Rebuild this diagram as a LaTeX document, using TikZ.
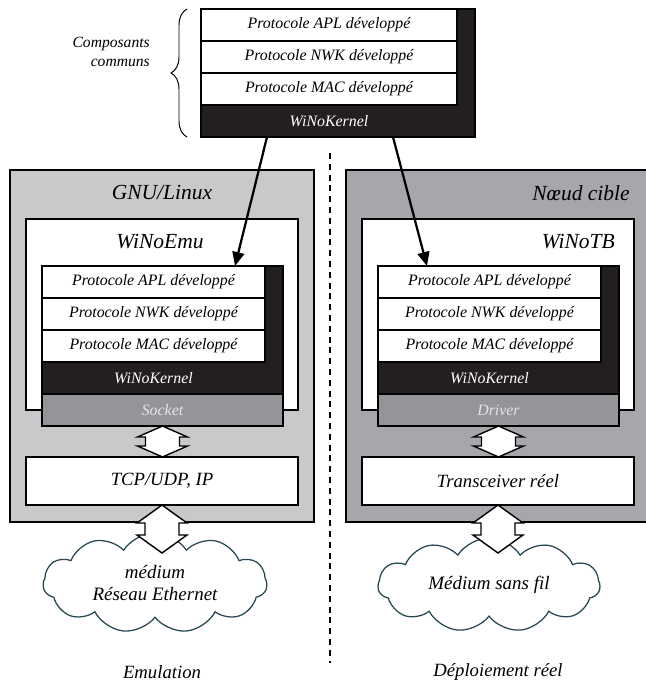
\documentclass[tikz,border=0pt]{standalone}
\usepackage{fontspec}
\setmainfont{Liberation Serif}
\usetikzlibrary{positioning,shapes.symbols,decorations.pathreplacing,arrows.meta}

\definecolor{noir}{RGB}{35,31,32}
\definecolor{grisclair}{RGB}{200,201,203}
\definecolor{grisfonce}{RGB}{166,167,171}
\definecolor{grispilote}{RGB}{147,149,152}
\definecolor{bordnuage}{RGB}{40,72,84}

\tikzset{couche/.style = {draw, fill=white, line width=1pt, minimum width=#1,
                          minimum height=0.8cm, inner sep=0pt, outer sep=0pt,
                          font=\fontsize{11.3}{13}\selectfont\itshape},
         couche/.default=5.575cm,
         noyau/.style = {couche=#1, draw=none, fill=none, text=white},
         noyau/.default=5.575cm,
         fond/.style = {draw, fill=noir, line width=1pt, minimum width=#1,
                        minimum height=3.2cm, inner sep=0pt, outer sep=0pt},
         fond/.default=6.025cm,
         pilote/.style = {couche=6.025cm, fill=grispilote, text=white!90!black},
         hote/.style = {draw, line width=1.2pt, minimum width=7.6cm, minimum height=8.8cm,
                        inner sep=0pt, outer sep=0pt},
         cadre/.style = {draw, fill=white, line width=1.2pt, minimum width=6.8cm,
                         minimum height=4.775cm, inner sep=0pt, outer sep=0pt},
         boite/.style = {cadre, minimum height=1.2cm, font=\fontsize{13.3}{15}\selectfont\itshape},
         titre/.style = {inner sep=0pt, font=\fontsize{15.3}{17}\selectfont\itshape},
         legende/.style = {inner sep=0pt, font=\fontsize{13.3}{15}\selectfont\itshape},
         nuage/.style = {cloud, cloud puffs=11, cloud puff arc=115, cloud ignores aspect,
                         draw=bordnuage, fill=white, line width=0.9pt, inner sep=0pt,
                         minimum width=5.6cm, minimum height=2.5cm, align=center,
                         font=\fontsize{13.5}{15.5}\selectfont\itshape},
         bidirec/.style = {draw, fill=white, line width=1pt, line join=miter},
         lien/.style = {line width=1.6pt, -{Triangle[length=0.35cm,width=0.3cm]}},
         accolade/.style = {decorate, decoration={brace, amplitude=0.4cm}, line width=0.7pt},
         separation/.style = {line width=1pt, dash pattern=on 0.15cm off 0.12cm}
        }

% fleche double entre deux points : tete, puis longueur du fut
\newcommand{\bidir}[4]{%
  \draw[bidirec] (#1) -- ++(-0.625,-#3) -- ++(0.2,0) -- ++(0,-#4) -- ++(-0.2,0) -- (#2)
    -- ++(0.625,#3) -- ++(-0.2,0) -- ++(0,#4) -- ++(0.2,0) -- cycle;}

\begin{document}
\begin{tikzpicture}
\useasboundingbox (0,0) rectangle (16.125,-17.05);
% composants communs
\node[fond=6.85cm, anchor=north west] (fondH) at (5.025,-0.225) {};
\node[couche=6.4cm, anchor=north west] (aplH) at (5.025,-0.225) {Protocole APL développé};
\node[couche=6.4cm, below=0pt of aplH] (nwkH) {Protocole NWK développé};
\node[couche=6.4cm, below=0pt of nwkH] (macH) {Protocole MAC développé};
\node[noyau=6.4cm, below=0pt of macH] (kerH) {WiNoKernel};
\draw[accolade] ([xshift=-0.35cm]kerH.south west) -- ([xshift=-0.35cm]aplH.north west);
\node[legende, font=\fontsize{11.1}{13.5}\selectfont\itshape, anchor=east, align=right] (communs) at (3.75,-1.3) {Composants\\communs};

% emulation
\node[hote, fill=grisclair, anchor=north west] (linux) at (0.25,-4.25) {};
\node[titre] (tlinux) at (4.05,-4.825) {GNU/Linux};
\node[cadre, anchor=north west] (emu) at (0.65,-5.475) {};
\node[titre] (temu) at (4.0,-6.05) {WiNoEmu};
\node[fond, anchor=north west] (fondE) at (1.05,-6.65) {};
\node[couche, anchor=north west] (aplE) at (1.05,-6.65) {Protocole APL développé};
\node[couche, below=0pt of aplE] (nwkE) {Protocole NWK développé};
\node[couche, below=0pt of nwkE] (macE) {Protocole MAC développé};
\node[noyau, below=0pt of macE] (kerE) {WiNoKernel};
\node[pilote, anchor=north west] (socket) at (fondE.south west) {Socket};
\node[boite, anchor=north west] (tcp) at (0.65,-11.425) {TCP/UDP, IP};
\node[nuage] (ethernet) at (3.875,-14.575) {médium\\Réseau Ethernet};
\coordinate (basE) at (4.05,-13.825);
\bidir{socket.south}{socket.south |- tcp.north}{0.275}{0.225}
\bidir{tcp.south}{basE}{0.45}{0.3}
\node[legende] (emul) at (4.05,-16.8) {Emulation};

% deploiement
\node[hote, fill=grisfonce, anchor=north west] (cible) at (8.65,-4.25) {};
\node[titre, anchor=east] (tcible) at (15.75,-4.825) {Nœud cible};
\node[cadre, anchor=north west] (tb) at (9.05,-5.475) {};
\node[titre, anchor=east] (ttb) at (15.375,-6.05) {WiNoTB};
\node[fond, anchor=north west] (fondT) at (9.45,-6.65) {};
\node[couche, anchor=north west] (aplT) at (9.45,-6.65) {Protocole APL développé};
\node[couche, below=0pt of aplT] (nwkT) {Protocole NWK développé};
\node[couche, below=0pt of nwkT] (macT) {Protocole MAC développé};
\node[noyau, below=0pt of macT] (kerT) {WiNoKernel};
\node[pilote, anchor=north west] (driver) at (fondT.south west) {Driver};
\node[boite, anchor=north west] (trx) at (9.05,-11.425) {Transceiver réel};
\node[nuage, minimum width=5.55cm, minimum height=2.35cm] (sansfil) at (12.225,-14.625) {Médium sans fil};
\coordinate (basT) at (12.45,-13.825);
\bidir{driver.south}{driver.south |- trx.north}{0.275}{0.225}
\bidir{trx.south}{basT}{0.45}{0.3}
\node[legende] (deploi) at (12.45,-16.8) {Déploiement réel};

% liens et separation
\draw[lien] ([xshift=1.65cm]kerH.south west) -- ([xshift=4.825cm]aplE.north west);
\draw[lien] ([xshift=4.8cm]kerH.south west) -- ([xshift=1.225cm]aplT.north west);
\coordinate (sepH) at (8.25,-3.825);
\coordinate (sepB) at (8.25,-16.575);
\draw[separation] (sepH) -- (sepB);
\end{tikzpicture}
\end{document}
